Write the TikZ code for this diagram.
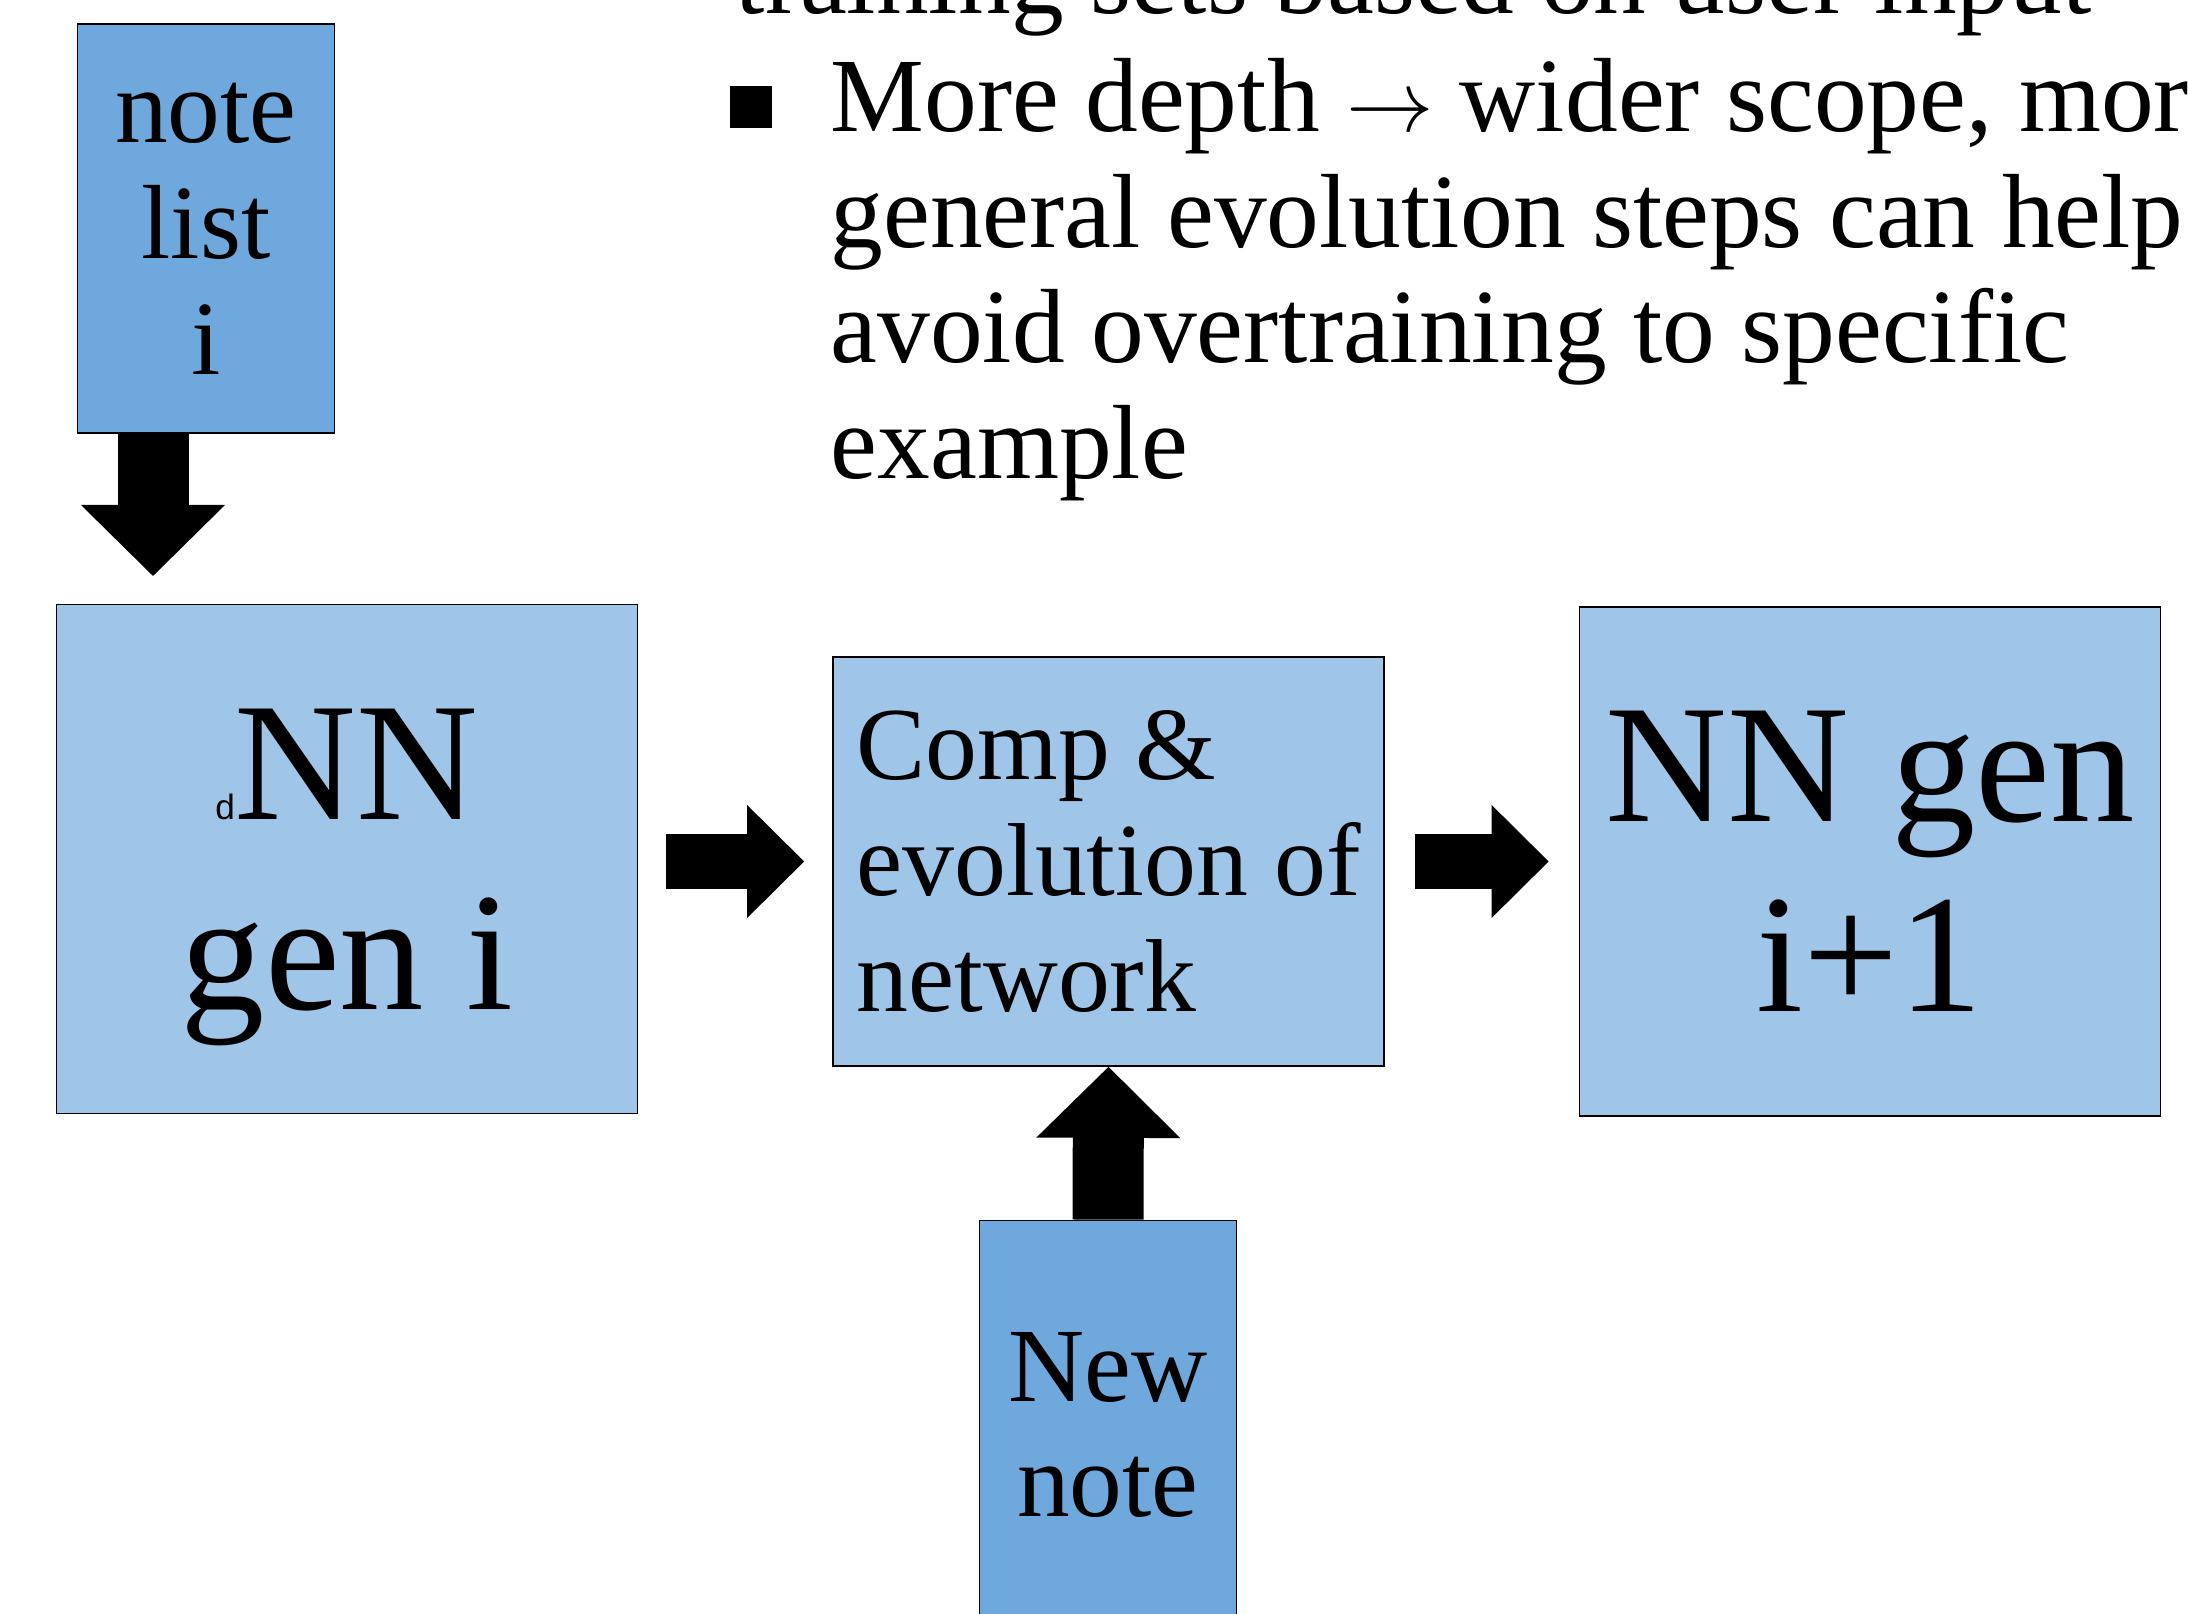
\documentclass[tikz,border=0pt]{standalone}
\usepackage{fontspec}
\setmainfont{Liberation Serif}
\newfontfamily\dfont{Liberation Sans}
\usetikzlibrary{arrows.meta}
\definecolor{boxlight}{HTML}{9FC5E8}
\definecolor{boxmid}{HTML}{6FA8DC}
\tikzset{
  body/.style={font=\fontsize{30}{33}\selectfont},
  bigtext/.style={font=\fontsize{48}{54}\selectfont},
  genbox/.style={draw, line width=0.5pt, fill=boxlight, minimum width=5.81cm, minimum height=5.09cm, align=center, inner sep=0pt, text depth=0pt},
  notebox/.style={draw, line width=0.5pt, fill=boxmid, minimum width=2.57cm, minimum height=4.09cm, align=center, inner sep=0pt, body},
  vfat/.style={line width=0.71cm, -{Triangle[length=0.71cm 0 0, width=1.44cm 0 0, line width=0pt 0 0]}},
  hfat/.style={line width=0.55cm, -{Triangle[length=0.57cm 0 0, width=1.13cm 0 0, line width=0pt 0 0]}}
}
\begin{document}
\begin{tikzpicture}
  \useasboundingbox (0,0) rectangle (21.88,16.14);
  % text of the slide
  \node[body, anchor=base west, inner sep=0] (prevline) at (7.35,16.00) {training sets based on user input};
  \node[fill=black, inner sep=0, minimum size=0.42cm] (bullet) at (7.51,15.065) {};
  \node[body, anchor=base west, align=left, inner sep=0] (depthtext) at (8.30,11.35)
    {More depth $\rightarrow$ wider scope, more\\general evolution steps can help\\avoid overtraining to specific\\example};
  % boxes
  \node[notebox] (notelist) at (2.06,13.855) {note\\list\\i};
  \node[genbox, bigtext] (nngen) at (3.47,7.55) {{\dfont\fontsize{10}{12}\selectfont d}NN\\gen i};
  \node[draw, line width=0.5pt, fill=boxlight, minimum width=5.51cm, minimum height=4.09cm,
        inner sep=0pt, align=left, font=\fontsize{29.5}{33}\selectfont] (compevo) at (11.085,7.525)
    {Comp \&\\evolution of\\network};
  \node[genbox, bigtext] (nngennext) at (18.70,7.525) {NN gen\\i+1};
  \node[notebox] (newnote) at (11.08,1.89) {New\\note};
  % block arrows
  \coordinate (tipA) at (1.53,10.38);
  \draw[vfat] (notelist.south -| tipA) -- (tipA);
  \draw[hfat] ([xshift=0.28cm]nngen.east |- compevo.west) -- ([xshift=-0.28cm]compevo.west);
  \draw[hfat] ([xshift=0.30cm]compevo.east) -- ([xshift=-0.30cm]nngennext.west |- compevo.east);
  \draw[vfat] (newnote.north) -- (compevo.south);
\end{tikzpicture}
\end{document}
